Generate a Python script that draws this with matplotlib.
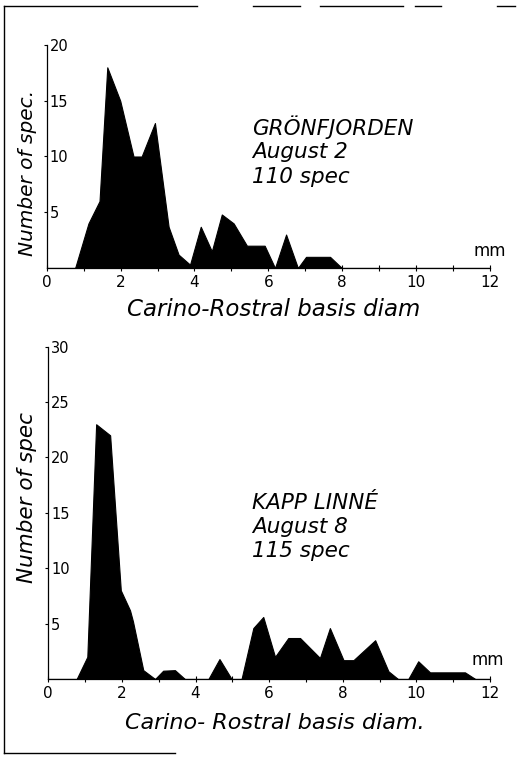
import matplotlib
matplotlib.use('Agg')
import matplotlib.pyplot as plt
from matplotlib.lines import Line2D

# ---- data ----
top_x = [0, 0.77, 0.86, 1.13, 1.43, 1.64, 1.99, 2.35, 2.57, 2.93, 3.3, 3.57, 3.88,
         4.17, 4.47, 4.74, 5.06, 5.42, 5.9, 6.18, 6.48, 6.8, 7.02, 7.67, 7.99, 12]
top_y = [0, 0, 1, 4, 6, 18, 15, 10, 10, 13, 3.7, 1.2, 0.3,
         3.7, 1.5, 4.8, 4, 2, 2, 0, 3, 0, 1, 1, 0, 0]

bot_x = [0, 0.77, 1.06, 1.3, 1.68, 1.97, 2.22, 2.3, 2.58, 2.9, 3.12, 3.44, 3.71,
         4.35, 4.65, 4.98, 5.25, 5.57, 5.84, 6.16, 6.52, 6.84, 7.38, 7.65, 8.02,
         8.29, 8.88, 9.24, 9.5, 9.78, 10.05, 10.37, 11.32, 11.6, 12]
bot_y = [0, 0, 2, 23, 22, 8, 6.2, 5.2, 0.8, 0, 0.75, 0.8, 0,
         0, 1.8, 0, 0, 4.6, 5.6, 2, 3.7, 3.7, 1.9, 4.6, 1.7,
         1.7, 3.5, 0.7, 0, 0, 1.6, 0.6, 0.6, 0, 0]

x_major = [0, 2, 4, 6, 8, 10, 12]
x_minor = [1, 3, 5, 7, 9, 11]
top_yticks = [5, 10, 15, 20]
bot_yticks = [5, 10, 15, 20, 25, 30]

top_info = ["GRÖNFJORDEN", "August 2", "110 spec"]
bot_info = ["KAPP LINNÉ", "August 8", "115 spec"]
top_xlabel = "Carino-Rostral basis diam"
bot_xlabel = "Carino- Rostral basis diam."
top_ylabel = "Number of spec."
bot_ylabel = "Number of spec"

W, H = 530, 757
fig = plt.figure(figsize=(W / 100, H / 100), dpi=100)
fig.patch.set_facecolor('white')


def fx(px):
    return px / W


def fy(py):
    return 1 - py / H


def make_axes(l, t, r, b, xs, ys, yticks, ymax, xlabel, ylabel, xlab_pos, ylab_pos,
              xlab_size, ylab_size):
    ax = fig.add_axes([fx(l), fy(b), fx(r) - fx(l), fy(t) - fy(b)])
    ax.fill_between(xs, ys, 0, color='black', linewidth=0.8, edgecolor='black')
    ax.set_xlim(0, 12)
    ax.set_ylim(0, ymax)
    ax.set_xticks(x_major)
    ax.set_xticks(x_minor, minor=True)
    ax.set_xticklabels([str(v) for v in x_major], fontsize=11)
    ax.set_yticks(yticks)
    ax.set_yticklabels([str(v) for v in yticks], fontsize=10.5)
    for lbl in ax.get_yticklabels():
        lbl.set_horizontalalignment('left')
    ax.tick_params(axis='x', which='both', direction='inout', length=4, width=0.8, pad=3)
    ax.tick_params(axis='y', direction='out', length=2, width=0.8, pad=-4)
    for s in ['top', 'right']:
        ax.spines[s].set_visible(False)
    for s in ['left', 'bottom']:
        ax.spines[s].set_linewidth(0.9)
    ax.set_xlabel(xlabel, fontsize=xlab_size, fontstyle='italic', va='center')
    ax.xaxis.set_label_coords(*xlab_pos)
    ax.set_ylabel(ylabel, fontsize=ylab_size, fontstyle='italic', va='center')
    ax.yaxis.set_label_coords(*ylab_pos)
    ax.patch.set_alpha(0)
    return ax


ax1 = make_axes(46.7, 45, 490, 268, top_x, top_y, top_yticks, 20,
                top_xlabel, top_ylabel, (0.513, -0.188), (-0.044, 0.426), 16.5, 14.5)
ax2 = make_axes(48.3, 346.7, 490, 679, bot_x, bot_y, bot_yticks, 30,
                bot_xlabel, bot_ylabel, (0.513, -0.132), (-0.048, 0.545), 16, 15.5)

# annotations
for i, t in enumerate(top_info):
    fig.text(fx(252), fy(127 + i * 25), t, fontsize=15.5, fontstyle='italic',
             ha='left', va='center')
for i, t in enumerate(bot_info):
    fig.text(fx(252), fy(503 + i * 24), t, fontsize=15.5, fontstyle='italic',
             ha='left', va='center')
fig.text(fx(490), fy(251), "mm", fontsize=12, ha='center', va='center')
fig.text(fx(488), fy(660), "mm", fontsize=12, ha='center', va='center')

# page frame
frame_segments = [
    ((4, 6), (4, 753)),
    ((4, 6), (197, 6)), ((253, 6), (300, 6)), ((320, 6), (403, 6)),
    ((415, 6), (441, 6)), ((497, 6), (515, 6)),
    ((4, 753), (175, 753)),
]
for (x0, y0), (x1, y1) in frame_segments:
    fig.add_artist(Line2D([fx(x0), fx(x1)], [fy(y0), fy(y1)], color='black',
                          linewidth=1.0, transform=fig.transFigure))

fig.savefig('out.png', dpi=100, facecolor='white')
